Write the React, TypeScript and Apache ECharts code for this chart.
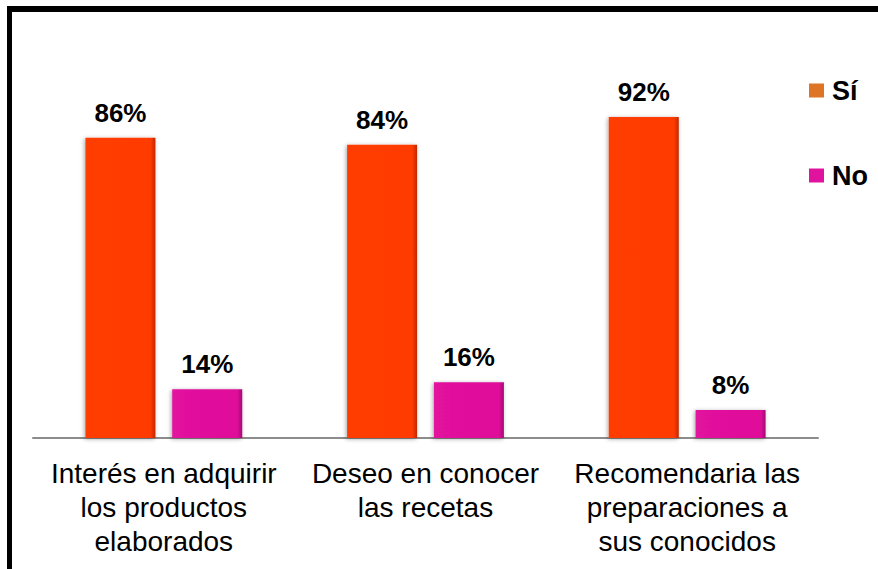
import React, { useEffect, useRef } from "react";
import * as echarts from "echarts";

const categories = [
  "Interés en adquirir\nlos productos\nelaborados",
  "Deseo en conocer\nlas recetas",
  "Recomendaria las\npreparaciones a\nsus conocidos",
];
const siValues = [86, 84, 92];
const noValues = [14, 16, 8];
const seriesNames = ["Sí", "No"];

const FONT = "Arial, 'Liberation Sans', sans-serif";

export default function App() {
  const ref = useRef<HTMLDivElement>(null);
  useEffect(() => {
    if (!ref.current) return;
    const chart = echarts.init(ref.current, null, { renderer: "svg" });
    const barStyle = (c1: string, c2: string, c3: string) => ({
      color: new echarts.graphic.LinearGradient(0, 0, 1, 0, [
        { offset: 0, color: c1 },
        { offset: 0.93, color: c2 },
        { offset: 1, color: c3 },
      ]),
      shadowColor: "rgba(0,0,0,0.35)",
      shadowBlur: 4,
      shadowOffsetX: -1,
      shadowOffsetY: 1,
    });
    const label = {
      show: true,
      position: "top",
      distance: 12,
      formatter: "{c}%",
      fontFamily: FONT,
      fontSize: 26,
      fontWeight: "bold",
      color: "#000",
    };
    chart.setOption({
      animation: false,
      backgroundColor: "#ffffff",
      graphic: [
        { type: "rect", shape: { x: 7, y: 6, width: 871, height: 6 }, style: { fill: "#000" } },
        { type: "rect", shape: { x: 7, y: 6, width: 5, height: 563 }, style: { fill: "#000" } },
      ],
      grid: { left: 33, right: 60, top: 89, bottom: 131 },
      legend: {
        orient: "vertical",
        left: 809,
        top: 77,
        padding: 0,
        icon: "rect",
        itemWidth: 15,
        itemHeight: 14,
        itemGap: 58,
        textStyle: {
          fontFamily: FONT,
          fontSize: 27,
          fontWeight: "bold",
          color: "#000",
          padding: [0, 0, 0, 3],
        },
        data: [
          { name: seriesNames[0], itemStyle: { color: "#DD7426" } },
          { name: seriesNames[1], itemStyle: { color: "#E0139E" } },
        ],
      },
      xAxis: {
        type: "category",
        data: categories,
        axisLine: { lineStyle: { color: "#8c8c8c", width: 2 } },
        axisTick: { show: false },
        axisLabel: {
          interval: 0,
          margin: 18,
          fontFamily: FONT,
          fontSize: 28,
          lineHeight: 34,
          color: "#000",
        },
      },
      yAxis: {
        type: "value",
        min: 0,
        max: 100,
        show: false,
        splitLine: { show: false },
      },
      series: [
        {
          name: seriesNames[0],
          type: "bar",
          data: siValues,
          barWidth: 70,
          barGap: "24%",
          itemStyle: barStyle("#FF3D00", "#FF3A00", "#C02800"),
          label,
        },
        {
          name: seriesNames[1],
          type: "bar",
          data: noValues,
          barWidth: 70,
          barGap: "24%",
          itemStyle: barStyle("#E2129E", "#DF0E9A", "#A00870"),
          label,
        },
      ],
    });
    return () => chart.dispose();
  }, []);
  return (
    <div
      ref={ref}
      style={{ position: "fixed", left: 0, top: 0, width: 878, height: 569 }}
    />
  );
}
